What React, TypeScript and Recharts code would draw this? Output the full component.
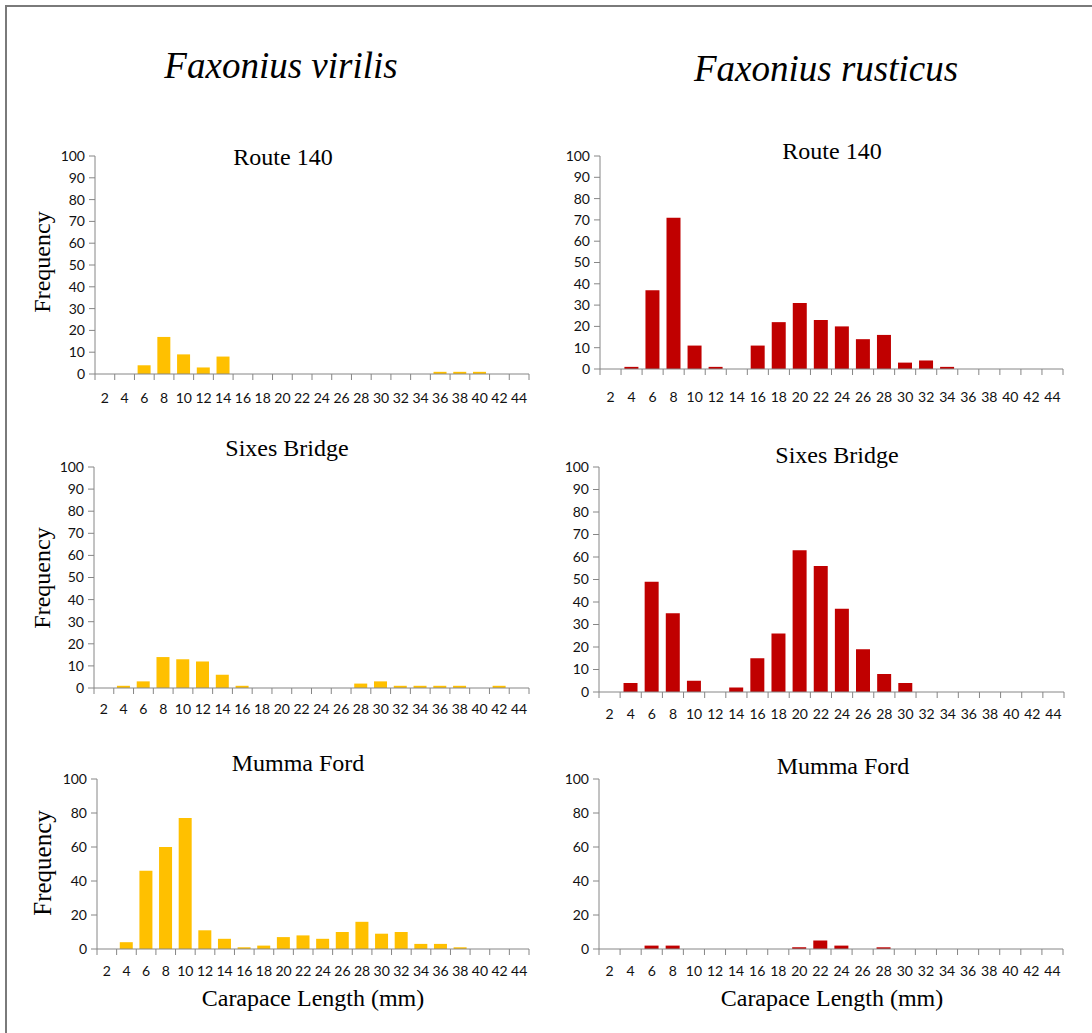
import React from 'react';
import { BarChart, Bar, XAxis, YAxis } from 'recharts';

// carapace length bins (mm)
const lengths = ['2', '4', '6', '8', '10', '12', '14', '16', '18', '20', '22', '24', '26', '28', '30', '32', '34', '36', '38', '40', '42', '44'];

const virilisRoute140 = [0, 0, 4, 17, 9, 3, 8, 0, 0, 0, 0, 0, 0, 0, 0, 0, 0, 1, 1, 1, 0, 0];
const virilisSixes = [0, 1, 3, 14, 13, 12, 6, 1, 0, 0, 0, 0, 0, 2, 3, 1, 1, 1, 1, 0, 1, 0];
const virilisMumma = [0, 4, 46, 60, 77, 11, 6, 1, 2, 7, 8, 6, 10, 16, 9, 10, 3, 3, 1, 0, 0, 0];

const rusticusRoute140 = [0, 1, 37, 71, 11, 1, 0, 11, 22, 31, 23, 20, 14, 16, 3, 4, 1, 0, 0, 0, 0, 0];
const rusticusSixes = [0, 4, 49, 35, 5, 0, 2, 15, 26, 63, 56, 37, 19, 8, 4, 0, 0, 0, 0, 0, 0, 0];
const rusticusMumma = [0, 0, 2, 2, 0, 0, 0, 0, 0, 1, 5, 2, 0, 1, 0, 0, 0, 0, 0, 0, 0, 0];

const ticks10 = [0, 10, 20, 30, 40, 50, 60, 70, 80, 90, 100];
const ticks20 = [0, 20, 40, 60, 80, 100];

const YELLOW = '#FFC000';
const RED = '#C00000';
const AXIS = '#868686';
const SERIF = '"Liberation Serif", "Times New Roman", serif';
const SANS = 'Lato, "Open Sans", sans-serif';

type PanelProps = {
  values: number[];
  color: string;
  ticks: number[];
  // plot box in page pixels
  x0: number;
  x1: number;
  y0: number;
  y1: number;
  labelGap: number;
};

function Panel({ values, color, ticks, x0, x1, y0, y1, labelGap }: PanelProps) {
  const data = lengths.map((len, i) => ({ len, count: values[i] }));
  const left = x0 - 50;
  const top = y0 - 10;
  const width = x1 - left + 12;
  const height = y1 - top + 40;
  const bw = (x1 - x0) / lengths.length;
  const axisY = 10 + (y1 - y0);

  const renderTick = (props: any) => {
    const { x, index, payload } = props;
    const last = index === lengths.length - 1;
    return (
      <g>
        <line x1={x - bw / 2} x2={x - bw / 2} y1={axisY} y2={axisY + 6} stroke={AXIS} />
        {last && <line x1={x + bw / 2} x2={x + bw / 2} y1={axisY} y2={axisY + 6} stroke={AXIS} />}
        <text x={x} y={axisY + labelGap} textAnchor="middle" dominantBaseline="central" fontSize={14} fontFamily={SANS} fill="#111">
          {payload.value}
        </text>
      </g>
    );
  };

  return (
    <div style={{ position: 'absolute', left, top }}>
      <BarChart width={width} height={height} data={data} margin={{ top: 10, right: 12, bottom: 0, left: 0 }} barCategoryGap="16%">
        <XAxis dataKey="len" interval={0} height={40} tickLine={false} axisLine={{ stroke: AXIS }} tick={renderTick} />
        <YAxis
          width={50}
          domain={[0, 100]}
          ticks={ticks}
          interval={0}
          tickSize={6}
          tickMargin={4}
          axisLine={{ stroke: AXIS }}
          tickLine={{ stroke: AXIS }}
          tick={{ fontSize: 14, fontFamily: SANS, fill: '#111' }}
        />
        <Bar dataKey="count" fill={color} isAnimationActive={false} />
      </BarChart>
    </div>
  );
}

function Label({ x, y, size, children, italic, rotate }: { x: number; y: number; size: number; children: React.ReactNode; italic?: boolean; rotate?: boolean }) {
  return (
    <div
      style={{
        position: 'absolute',
        left: x,
        top: y,
        transform: `translate(-50%, -50%)${rotate ? ' rotate(-90deg)' : ''}`,
        fontFamily: SERIF,
        fontSize: size,
        fontStyle: italic ? 'italic' : 'normal',
        whiteSpace: 'nowrap',
        lineHeight: 1,
        color: '#000',
      }}
    >
      {children}
    </div>
  );
}

export default function App() {
  return (
    <div style={{ position: 'absolute', left: 0, top: 0, width: 1092, height: 1033, background: '#fff', overflow: 'hidden' }}>
      <div style={{ position: 'absolute', left: 5, top: 5, width: 1100, height: 1100, borderTop: '2px solid #7a7a7a', borderLeft: '2px solid #7a7a7a' }} />

      <Label x={281} y={65} size={37} italic>Faxonius virilis</Label>
      <Label x={826} y={68} size={37} italic>Faxonius rusticus</Label>

      <Label x={283} y={157} size={24}>Route 140</Label>
      <Label x={832} y={151} size={24}>Route 140</Label>
      <Label x={287} y={448} size={24}>Sixes Bridge</Label>
      <Label x={837} y={455} size={24}>Sixes Bridge</Label>
      <Label x={298} y={763} size={24}>Mumma Ford</Label>
      <Label x={843} y={766} size={24}>Mumma Ford</Label>

      <Label x={42} y={262} size={24} rotate>Frequency</Label>
      <Label x={42} y={578} size={24} rotate>Frequency</Label>
      <Label x={42} y={863} size={25} rotate>Frequency</Label>

      <Label x={313} y={998} size={24}>Carapace Length (mm)</Label>
      <Label x={832} y={998} size={24}>Carapace Length (mm)</Label>

      <Panel values={virilisRoute140} color={YELLOW} ticks={ticks10} x0={95} x1={529} y0={156} y1={374} labelGap={23} />
      <Panel values={rusticusRoute140} color={RED} ticks={ticks10} x0={600} x1={1063} y0={156} y1={369} labelGap={27} />
      <Panel values={virilisSixes} color={YELLOW} ticks={ticks10} x0={94} x1={529} y0={467} y1={688} labelGap={20} />
      <Panel values={rusticusSixes} color={RED} ticks={ticks10} x0={599} x1={1064} y0={467} y1={692} labelGap={21} />
      <Panel values={virilisMumma} color={YELLOW} ticks={ticks20} x0={97} x1={529} y0={779} y1={949} labelGap={21} />
      <Panel values={rusticusMumma} color={RED} ticks={ticks20} x0={599} x1={1063} y0={779} y1={949} labelGap={21} />
    </div>
  );
}
